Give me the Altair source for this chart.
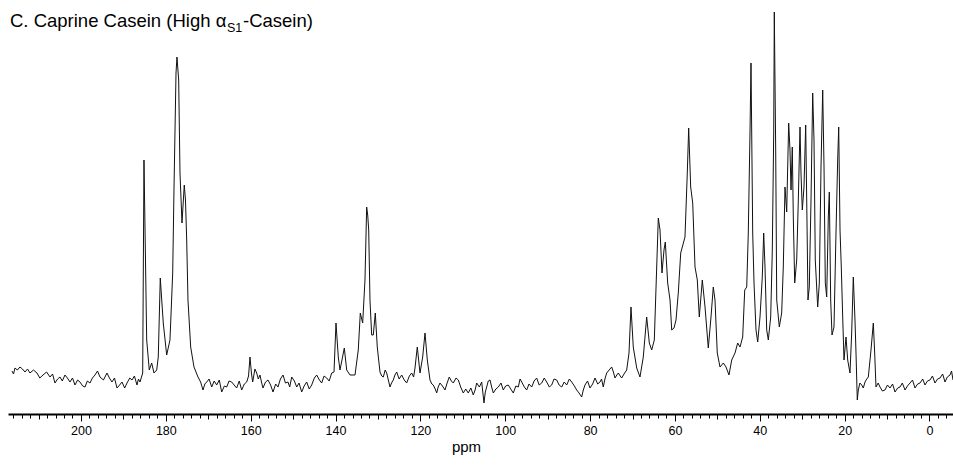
import altair as alt
import pandas as pd

# (ppm, intensity) pairs, region by region
baseline_high = [
    (216.26, 43), (215.9, 40), (215.55, 46), (215.0, 44), (214.38, 47), (213.8, 45),
    (213.2, 42), (212.6, 45), (212.02, 41), (211.2, 44), (210.37, 41), (209.7, 36),
    (208.95, 39), (208.1, 42), (207.3, 37), (206.7, 40), (206.13, 31), (205.5, 35),
    (204.95, 37), (204.4, 33), (203.77, 39), (203.2, 36), (202.59, 32), (202.0, 36),
    (201.41, 29), (200.8, 34), (200.23, 32), (199.6, 28), (199.05, 27), (198.5, 33),
    (197.88, 31), (197.3, 36), (196.7, 39), (196.1, 43), (195.52, 37), (194.7, 34),
    (193.87, 41), (193.3, 36), (192.69, 32), (192.1, 36), (191.51, 26), (190.9, 29),
    (190.33, 32), (189.7, 26), (189.15, 31), (188.5, 36), (187.98, 34), (187.4, 38),
    (186.8, 29), (186.45, 35), (186.09, 32),
]
carbonyl = [
    (185.45, 41), (185.15, 254), (184.51, 74), (183.9, 44), (183.33, 51), (182.79, 41),
    (182.15, 44), (181.78, 57), (181.31, 136), (180.6, 91), (179.8, 59), (179.02, 74),
    (178.38, 141), (178.08, 224), (177.6, 341), (177.37, 357), (176.97, 334), (176.66, 241),
    (176.19, 191), (175.65, 229), (175.37, 214), (175.08, 174), (174.78, 114), (174.14, 67),
]
baseline_mid = [
    (173.36, 47), (172.42, 37), (171.8, 32), (171.24, 24), (170.8, 30), (170.37, 32),
    (169.8, 35), (169.19, 27), (168.6, 33), (168.01, 29), (167.4, 34), (166.83, 22),
    (166.2, 28), (165.65, 27), (165.1, 33), (164.48, 32), (163.9, 29), (163.3, 26),
    (162.7, 33), (162.12, 24), (161.5, 30), (160.94, 32), (160.5, 38), (160.16, 57),
    (159.8, 40), (159.53, 32), (159.0, 45), (158.58, 41), (158.2, 35), (157.81, 39),
    (157.4, 31), (157.1, 26), (156.5, 32), (155.92, 34), (155.3, 29), (154.74, 22),
    (154.1, 30), (153.56, 27), (153.0, 35), (152.38, 39), (151.8, 31), (151.21, 32),
    (150.8, 27), (150.33, 37), (149.7, 33), (149.15, 27), (148.6, 31), (147.98, 22),
    (147.4, 28), (146.8, 32), (146.2, 25), (145.62, 29), (145.0, 36), (144.44, 39),
    (143.8, 34), (143.26, 31), (142.7, 38), (142.08, 36), (141.5, 33), (140.9, 41),
]
aromatic = [
    (140.36, 42), (139.89, 91), (139.35, 57), (138.95, 44), (138.48, 54), (137.93, 66),
    (137.37, 44), (136.59, 39), (135.41, 39), (134.64, 64), (134.16, 101), (133.6, 91),
    (133.06, 134), (132.66, 207), (132.42, 199), (132.18, 184), (131.88, 114), (131.48, 79),
    (131.1, 79), (130.63, 101), (130.16, 67),
]
baseline_arom = [
    (129.52, 42), (129.1, 38), (128.74, 37), (128.3, 44), (127.94, 41), (127.5, 33),
    (127.16, 27), (126.8, 31), (126.39, 34), (126.0, 39), (125.58, 42), (125.0, 35),
    (124.41, 39), (123.8, 34), (123.23, 31), (122.6, 38), (122.05, 41), (121.6, 37),
    (121.27, 46),
]
aromatic_low = [
    (120.73, 67), (120.09, 41), (119.46, 57), (118.91, 81), (118.37, 54),
]
baseline_low = [
    (117.73, 34), (117.3, 30), (116.96, 29), (116.5, 25), (116.16, 21), (115.8, 27),
    (115.38, 31), (114.8, 28), (114.2, 24), (113.7, 31), (113.19, 37), (112.7, 33),
    (112.24, 31), (111.6, 36), (111.06, 34), (110.5, 27), (109.89, 21), (109.3, 25),
    (108.71, 21), (108.1, 26), (107.53, 19), (107.1, 24), (106.73, 31), (106.1, 27),
    (105.55, 32), (105.01, 11), (104.7, 22), (104.37, 27), (104.0, 33), (103.59, 34),
    (103.2, 27), (102.81, 21), (102.2, 25), (101.64, 27), (101.0, 31), (100.46, 24),
    (99.9, 28), (99.28, 29), (98.7, 25), (98.1, 21), (97.5, 28), (96.92, 27),
    (96.5, 35), (96.12, 32), (95.5, 27), (94.94, 24), (94.4, 30), (93.76, 27),
    (93.2, 33), (92.59, 36), (92.0, 29), (91.41, 31), (90.8, 36), (90.23, 32),
    (89.6, 27), (89.05, 29), (88.5, 35), (87.87, 34), (87.3, 29), (86.69, 27),
    (86.1, 32), (85.51, 29), (84.9, 35), (84.34, 32), (83.7, 28), (83.16, 24),
    (82.6, 21), (81.98, 17), (81.6, 24), (81.2, 29), (80.6, 33), (80.02, 26),
    (79.4, 30), (78.84, 36), (78.2, 30), (77.66, 32), (77.3, 35), (76.89, 27),
    (76.5, 35), (76.09, 41), (75.5, 44), (74.91, 47), (74.5, 42), (74.13, 36),
    (73.7, 39), (73.35, 41), (72.9, 38), (72.55, 36), (72.0, 40), (71.37, 44),
]
aliphatic = [
    (70.83, 61), (70.36, 107), (69.82, 67), (69.01, 46), (68.24, 37), (67.46, 57),
    (66.66, 97), (66.04, 71), (65.48, 64), (64.86, 74), (64.3, 147), (63.92, 196),
    (63.52, 184), (63.05, 141), (62.58, 164), (62.27, 172), (61.71, 131), (61.16, 114),
    (60.76, 84), (60.22, 86), (59.75, 94), (59.21, 121), (58.64, 161), (57.63, 177),
    (57.09, 241), (56.76, 286), (56.29, 227), (55.81, 211), (55.27, 147), (54.73, 134),
    (54.26, 97), (53.55, 134), (52.91, 107), (52.14, 66), (51.5, 97), (50.96, 127),
    (50.56, 114), (50.02, 61), (49.38, 47), (48.6, 51), (47.96, 47), (47.26, 39),
    (46.62, 54), (45.84, 61), (45.21, 71), (44.66, 67), (44.03, 77), (43.55, 124),
    (43.08, 127), (42.71, 181), (42.31, 281), (42.07, 351), (41.67, 181), (41.36, 131),
    (40.89, 84), (40.49, 72), (39.95, 97), (39.41, 137), (39.08, 181), (38.77, 147),
    (38.37, 84), (37.99, 74), (37.43, 97), (37.05, 164), (36.72, 281), (36.58, 402),
    (36.25, 264), (36.01, 114), (35.4, 87), (34.84, 101), (34.46, 147), (34.06, 227),
    (33.66, 202), (33.19, 291), (32.88, 264), (32.64, 224), (32.34, 267), (32.1, 197),
    (31.77, 131), (31.3, 154), (30.92, 214), (30.52, 287), (30.29, 241), (29.98, 204),
    (29.58, 227), (29.18, 289), (28.94, 214), (28.64, 114), (28.33, 127), (27.93, 214),
    (27.53, 321), (27.22, 274), (26.92, 154), (26.35, 107), (25.97, 131), (25.57, 247),
    (25.17, 324), (24.86, 247), (24.56, 131), (24.23, 117), (23.85, 197), (23.61, 222),
    (23.29, 114), (22.98, 79), (22.51, 87), (22.04, 181), (21.64, 254), (21.4, 287),
    (21.09, 184), (20.79, 147), (20.46, 97), (20.15, 54), (19.68, 77), (19.28, 54),
    (18.74, 41), (18.34, 81), (17.96, 137), (17.56, 94), (17.32, 61), (17.02, 14),
]
methyl = [
    (16.78, 24), (16.4, 31), (15.98, 29), (15.6, 26), (15.2, 32), (14.8, 35),
    (14.42, 37), (13.79, 64), (13.24, 91), (12.92, 61), (12.61, 27),
]
baseline_right = [
    (12.1, 31), (11.67, 27), (11.1, 23), (10.49, 24), (9.9, 29), (9.31, 26),
    (8.7, 30), (8.13, 22), (7.5, 26), (6.95, 27), (6.4, 31), (5.77, 24),
    (5.2, 28), (4.59, 31), (4.0, 34), (3.42, 26), (2.8, 30), (2.24, 31),
    (1.6, 35), (1.06, 29), (0.5, 33), (-0.12, 34), (-0.7, 38), (-1.3, 31),
    (-1.9, 35), (-2.48, 36), (-3.1, 40), (-3.66, 32), (-4.2, 37), (-4.84, 39),
    (-5.2, 43), (-5.54, 34),
]

label_ticks = [200, 180, 160, 140, 120, 100, 80, 60, 40, 20, 0]
mid_ticks = list(range(0, 220, 10))
minor_ticks = list(range(-4, 218, 2))

pairs = (baseline_high + carbonyl + baseline_mid + aromatic + baseline_arom
         + aromatic_low + baseline_low + aliphatic + methyl + baseline_right)
df = pd.DataFrame(pairs, columns=["ppm", "intensity"])
one = pd.DataFrame({"k": [0]})

FONT = "Liberation Sans"
xs = alt.Scale(domain=[-5.54, 217.2], reverse=True, nice=False, zero=False)
ys = alt.Scale(domain=[0, 409], nice=False, zero=False)

spectrum = alt.Chart(df).mark_line(color="#111111", strokeWidth=1).encode(
    x=alt.X("ppm:Q", scale=xs, axis=alt.Axis(
        values=label_ticks, title="ppm", orient="bottom", format="d",
        tickSize=7, tickWidth=1, tickColor="black", domainColor="black", domainWidth=2,
        labelFont=FONT, labelFontSize=12.5, labelColor="black", labelPadding=3,
        titleFont=FONT, titleFontSize=15, titleFontWeight="normal", titleColor="black",
        titleX=458, titleY=37, titleBaseline="alphabetic", grid=False)),
    y=alt.Y("intensity:Q", scale=ys, axis=None),
)

mid_axis = alt.Chart(df).mark_line(opacity=0).encode(
    x=alt.X("ppm:Q", scale=xs, axis=alt.Axis(
        values=mid_ticks, title=None, orient="bottom", labels=False, domain=False,
        tickSize=5, tickWidth=1, tickColor="black", grid=False)),
    y=alt.Y("intensity:Q", scale=ys, axis=None),
)

minor_axis = alt.Chart(df).mark_line(opacity=0).encode(
    x=alt.X("ppm:Q", scale=xs, axis=alt.Axis(
        values=minor_ticks, title=None, orient="bottom", labels=False, domain=False,
        tickSize=4, tickWidth=1, tickColor="black", grid=False)),
    y=alt.Y("intensity:Q", scale=ys, axis=None),
)

t1 = alt.Chart(one).mark_text(text="C. Caprine Casein (High α", align="left", baseline="alphabetic",
                              font=FONT, fontSize=18.5, color="black").encode(
    x=alt.value(2), y=alt.value(22))
t2 = alt.Chart(one).mark_text(text="S1", align="left", baseline="alphabetic",
                              font=FONT, fontSize=12.5, color="black").encode(
    x=alt.value(219), y=alt.value(27))
t3 = alt.Chart(one).mark_text(text="-Casein)", align="left", baseline="alphabetic",
                              font=FONT, fontSize=18.5, color="black").encode(
    x=alt.value(235), y=alt.value(22))

chart = alt.layer(minor_axis, mid_axis, spectrum, t1, t2, t3).resolve_axis(
    x="independent"
).properties(
    width=945, height=409,
    padding={"left": 8, "top": 5, "right": 0, "bottom": 52},
    autosize=alt.AutoSizeParams(type="none"),
    background="white",
).configure_view(stroke=None)

chart.save("out.html", embed_options={"renderer": "svg", "actions": False})
